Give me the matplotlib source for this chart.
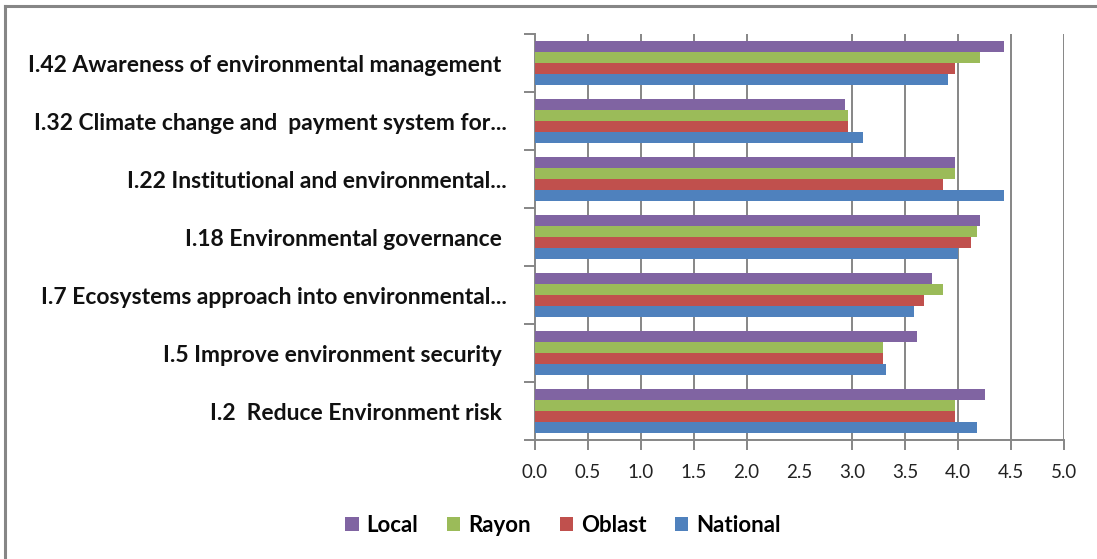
import matplotlib
matplotlib.use("Agg")
import matplotlib.pyplot as plt
from matplotlib.lines import Line2D
from matplotlib.patches import Patch
import numpy as np

# Categories listed top to bottom
categories = [
    "I.42 Awareness of environmental management ",
    "I.32 Climate change and  payment system for...",
    "I.22 Institutional and environmental...",
    "I.18 Environmental governance ",
    "I.7 Ecosystems approach into environmental...",
    "I.5 Improve environment security ",
    "I.2  Reduce Environment risk ",
]
local_vals    = [4.43, 2.93, 3.97, 4.21, 3.75, 3.61, 4.25]
rayon_vals    = [4.21, 2.96, 3.97, 4.18, 3.86, 3.29, 3.97]
oblast_vals   = [3.97, 2.96, 3.86, 4.12, 3.68, 3.29, 3.97]
national_vals = [3.90, 3.10, 4.43, 4.00, 3.58, 3.32, 4.18]

series_names = ["Local", "Rayon", "Oblast", "National"]
series_vals = [local_vals, rayon_vals, oblast_vals, national_vals]
series_colors = ["#8064A2", "#9BBB59", "#C0504D", "#4F81BD"]

x_ticks = [0.0, 0.5, 1.0, 1.5, 2.0, 2.5, 3.0, 3.5, 4.0, 4.5, 5.0]

W, H = 1097, 559
fig = plt.figure(figsize=(W / 100, H / 100), dpi=100)
fig.patch.set_facecolor("white")

ax = fig.add_axes([535 / W, 1 - 440 / H, (1064 - 535) / W, (440 - 34) / H])

grid_color = "#868686"
n = len(categories)
centers = np.arange(n)[::-1] + 0.5  # first category at top
bar_h = 0.186
offsets = [1.5 * bar_h, 0.5 * bar_h, -0.5 * bar_h, -1.5 * bar_h]

for vals, color, off in zip(series_vals, series_colors, offsets):
    ax.barh(centers + off, vals, height=bar_h, color=color, zorder=3, linewidth=0)

ax.set_xlim(0, 5)
ax.set_ylim(0, n)

# vertical gridlines
for xv in x_ticks[1:]:
    if xv == 2.5:
        continue
    ax.axvline(xv, color=grid_color, linewidth=1.4, zorder=1)

ax.set_xticks(x_ticks)
ax.set_xticklabels([f"{v:.1f}" for v in x_ticks], fontsize=13.5,
                   family="Lato", color="#222222")
for tl, xv in zip(ax.xaxis.get_major_ticks(), x_ticks):
    if xv == 2.5:
        tl.tick1line.set_visible(False)
ax.tick_params(axis="x", length=7, width=1.4, color=grid_color, pad=10)

# category boundaries as ticks, names at centres
ax.set_yticks(np.arange(n + 1))
ax.set_yticklabels([])
ax.tick_params(axis="y", which="major", length=8, width=1.4, color=grid_color)
ax.set_yticks(centers, minor=True)
ax.set_yticklabels(categories, minor=True, fontsize=16.5, fontweight="bold",
                   family="Lato", color="#111111")
ax.tick_params(axis="y", which="minor", length=0, pad=20)

for s in ["top", "right"]:
    ax.spines[s].set_visible(False)
for s in ["left", "bottom"]:
    ax.spines[s].set_color(grid_color)
    ax.spines[s].set_linewidth(1.4)

handles = [Patch(facecolor=c, edgecolor="none") for c in series_colors]
leg = fig.legend(handles, series_names, loc="center", ncol=4,
                 bbox_to_anchor=(563 / W, 1 - 525 / H), frameon=False,
                 prop={"family": "Lato", "weight": "bold", "size": 16},
                 handlelength=0.6, handleheight=0.6, handletextpad=0.35,
                 columnspacing=1.3)

# chart-area border
fig.add_artist(Line2D([5 / W, 1], [1 - 6 / H, 1 - 6 / H], transform=fig.transFigure,
                      color=grid_color, linewidth=2.2))
fig.add_artist(Line2D([5 / W, 5 / W], [0, 1 - 6 / H], transform=fig.transFigure,
                      color=grid_color, linewidth=2.2))

fig.savefig("out.png", dpi=100, facecolor="white")
